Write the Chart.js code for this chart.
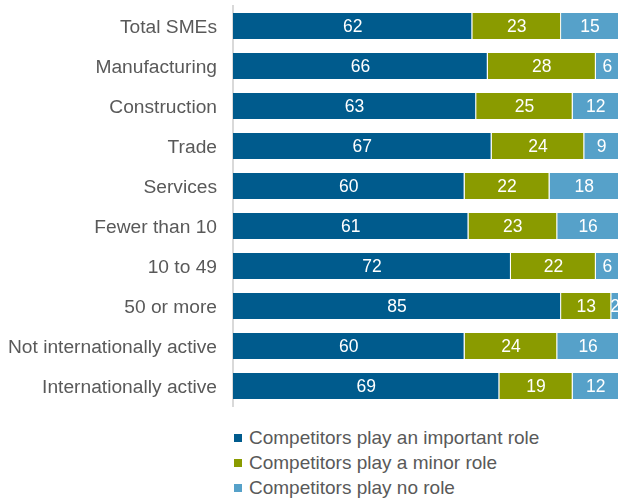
<!DOCTYPE html>
<html>
<head>
<meta charset="utf-8">
<script src="https://cdn.jsdelivr.net/npm/chart.js@4/dist/chart.umd.min.js"></script>
<style>
  body{margin:0;background:#fff;font-family:"Liberation Sans",Arial,sans-serif;}
  #wrap{position:relative;width:619px;height:502px;}
  #chart{position:absolute;left:0;top:0;}
  #legend{position:absolute;left:234px;top:426px;color:#595959;font-size:19px;}
  #legend div{height:25px;line-height:24px;white-space:nowrap;}
  #legend span{display:inline-block;width:8px;height:8px;margin-right:7px;vertical-align:2px;}
</style>
</head>
<body>
<div id="wrap">
  <canvas id="chart" width="619" height="412"></canvas>
  <div id="legend"></div>
</div>
<script>
const categories = ["Total SMEs","Manufacturing","Construction","Trade","Services",
  "Fewer than 10","10 to 49","50 or more","Not internationally active","Internationally active"];
const important = [62,66,63,67,60,61,72,85,60,69];
const minor     = [23,28,25,24,22,23,22,13,24,19];
const noRole    = [15,6,12,9,18,16,6,2,16,12];
const seriesNames = ["Competitors play an important role","Competitors play a minor role","Competitors play no role"];
const colors = ["#005b8d","#8a9b00","#56a1c9"];

// white value labels centred in each segment
const segLabels = {
  id:"segLabels",
  afterDatasetsDraw(chart){
    const ctx = chart.ctx;
    ctx.save();
    ctx.fillStyle = "#fff";
    ctx.font = '17.5px "Liberation Sans", Arial, sans-serif';
    ctx.textAlign = "center";
    ctx.textBaseline = "middle";
    chart.data.datasets.forEach((ds,i)=>{
      chart.getDatasetMeta(i).data.forEach((bar,j)=>{
        const x = (bar.x + bar.base)/2;
        ctx.fillText(String(ds.data[j]), x, bar.y+1);
      });
    });
    ctx.restore();
  }
};

const datasets = [important, minor, noRole].map((d,i)=>({
  label: seriesNames[i], data: d, backgroundColor: colors[i],
  borderColor:"#fff", borderWidth:{right:1,left:0,top:0,bottom:0}, borderSkipped:false,
  barPercentage:0.65, categoryPercentage:1
}));

new Chart(document.getElementById("chart"), {
  type:"bar",
  data:{labels:categories, datasets},
  options:{
    indexAxis:"y", responsive:false, animation:false,
    layout:{padding:{top:6,bottom:6,right:0,left:0}},
    plugins:{legend:{display:false}, tooltip:{enabled:false}},
    scales:{
      x:{stacked:true, min:0, max:100, display:false},
      y:{stacked:true,
        grid:{display:false, drawTicks:false},
        border:{display:true, color:"#d9d9d9", width:2},
        ticks:{color:"#595959", padding:16, labelOffset:2,
          font:{family:'"Liberation Sans", Arial, sans-serif', size:19.2}},
        afterFit(s){ s.width = 233; s.paddingTop = 0; s.paddingBottom = 0; }
      }
    }
  },
  plugins:[segLabels]
});

document.getElementById("legend").innerHTML = seriesNames.map((n,i)=>
  `<div><span style="background:${colors[i]}"></span>${n}</div>`).join("");
</script>
</body>
</html>
